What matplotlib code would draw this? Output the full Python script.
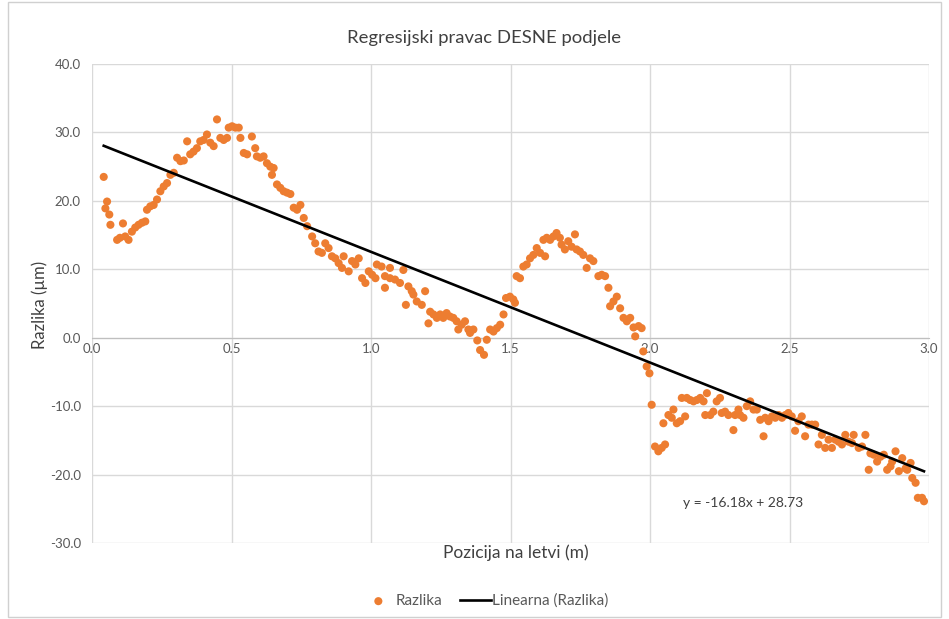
import numpy as np
import matplotlib.pyplot as plt
from matplotlib.patches import Rectangle

plt.rcParams['font.family'] = ['Lato', 'DejaVu Sans']

# pozicija na letvi (m) i razlika (um), ocitano s grafa
pozicija = [
    0.042, 0.048, 0.054, 0.062, 0.066, 0.090, 0.100, 0.111, 0.119, 0.131,
    0.143, 0.155, 0.167, 0.179, 0.191, 0.197, 0.209, 0.221, 0.233, 0.245,
    0.257, 0.269, 0.281, 0.293, 0.305, 0.317, 0.329, 0.341, 0.352, 0.364,
    0.376, 0.388, 0.400, 0.412, 0.424, 0.436, 0.448, 0.460, 0.472, 0.484,
    0.490, 0.502, 0.514, 0.526, 0.532, 0.544, 0.556, 0.573, 0.585, 0.591,
    0.603, 0.615, 0.627, 0.639, 0.645, 0.651, 0.663, 0.675, 0.687, 0.699,
    0.711, 0.723, 0.735, 0.747, 0.759, 0.771, 0.789, 0.800, 0.812, 0.824,
    0.836, 0.848, 0.860, 0.872, 0.884, 0.896, 0.902, 0.920, 0.932, 0.944,
    0.956, 0.968, 0.980, 0.992, 1.004, 1.016, 1.021, 1.038, 1.050, 1.050,
    1.068, 1.068, 1.086, 1.104, 1.116, 1.125, 1.134, 1.146, 1.152, 1.164,
    1.182, 1.194, 1.206, 1.212, 1.224, 1.236, 1.248, 1.259, 1.271, 1.283,
    1.295, 1.307, 1.313, 1.325, 1.337, 1.349, 1.355, 1.367, 1.381, 1.391,
    1.405, 1.415, 1.427, 1.439, 1.451, 1.463, 1.475, 1.484, 1.498, 1.510,
    1.516, 1.522, 1.534, 1.546, 1.558, 1.570, 1.582, 1.594, 1.606, 1.618,
    1.624, 1.630, 1.642, 1.654, 1.665, 1.677, 1.683, 1.695, 1.707, 1.719,
    1.731, 1.737, 1.749, 1.761, 1.773, 1.785, 1.797, 1.815, 1.827, 1.839,
    1.851, 1.857, 1.869, 1.881, 1.893, 1.905, 1.917, 1.929, 1.941, 1.947,
    1.959, 1.970, 1.976, 1.988, 1.998, 2.006, 2.018, 2.030, 2.042, 2.048,
    2.054, 2.066, 2.078, 2.084, 2.096, 2.108, 2.114, 2.126, 2.132, 2.144,
    2.156, 2.168, 2.180, 2.192, 2.198, 2.204, 2.216, 2.227, 2.239, 2.251,
    2.257, 2.269, 2.281, 2.299, 2.305, 2.317, 2.323, 2.335, 2.347, 2.359,
    2.371, 2.383, 2.395, 2.407, 2.413, 2.425, 2.437, 2.449, 2.461, 2.473,
    2.485, 2.496, 2.508, 2.520, 2.532, 2.544, 2.556, 2.568, 2.580, 2.592,
    2.604, 2.616, 2.628, 2.640, 2.652, 2.664, 2.676, 2.688, 2.700, 2.712,
    2.724, 2.730, 2.748, 2.760, 2.772, 2.784, 2.790, 2.802, 2.814, 2.826,
    2.838, 2.850, 2.862, 2.868, 2.880, 2.892, 2.904, 2.916, 2.922, 2.934,
    2.940, 2.952, 2.960, 2.975, 2.982,
]
razlika = [
    23.5, 18.9, 19.9, 18.0, 16.5, 14.3, 14.6, 16.7, 14.8, 14.3,
    15.5, 16.1, 16.5, 16.8, 17.0, 18.7, 19.2, 19.4, 20.2, 21.4,
    22.1, 22.6, 23.8, 24.1, 26.3, 25.8, 25.9, 28.7, 26.8, 27.2,
    27.7, 28.7, 28.9, 29.7, 28.5, 28.0, 31.9, 29.2, 28.9, 29.2,
    30.7, 30.9, 30.7, 30.7, 29.2, 27.0, 26.8, 29.4, 27.7, 26.5,
    26.3, 26.5, 25.5, 25.0, 23.8, 24.8, 22.4, 21.9, 21.4, 21.2,
    21.0, 19.0, 18.7, 19.4, 17.5, 16.3, 14.8, 13.8, 12.6, 12.4,
    13.8, 13.1, 11.9, 11.6, 10.9, 10.2, 11.9, 9.7, 11.2, 10.7,
    11.6, 8.7, 8.0, 9.7, 9.2, 8.7, 10.7, 10.4, 7.3, 9.0,
    8.7, 10.2, 8.5, 8.0, 9.9, 4.8, 7.5, 6.8, 6.3, 5.3,
    4.8, 6.8, 2.1, 3.8, 3.4, 2.9, 3.4, 2.9, 3.6, 3.1,
    2.9, 2.4, 1.2, 1.9, 2.4, 1.2, 0.7, 1.2, -0.4, -1.8,
    -2.5, -0.3, 1.2, 0.9, 1.4, 1.9, 3.4, 5.8, 6.0, 5.6,
    5.1, 9.0, 8.7, 10.4, 10.7, 11.6, 12.1, 13.1, 12.4, 14.3,
    11.9, 14.6, 14.3, 14.8, 15.3, 14.6, 13.6, 12.9, 14.1, 13.3,
    15.1, 12.9, 12.6, 12.1, 10.2, 11.6, 11.2, 9.0, 9.2, 9.0,
    7.3, 4.6, 5.3, 6.0, 4.3, 2.9, 2.4, 2.9, 1.5, 0.2,
    1.7, 1.4, -2.0, -4.2, -5.2, -9.8, -15.9, -16.6, -16.1, -12.5,
    -15.6, -11.3, -11.7, -10.5, -12.5, -12.2, -8.8, -11.5, -8.8, -9.1,
    -9.3, -9.1, -8.8, -9.3, -11.3, -8.1, -11.3, -10.8, -9.3, -8.8,
    -11.0, -10.8, -11.3, -13.5, -11.3, -10.5, -11.3, -11.7, -10.0, -9.3,
    -10.5, -10.5, -12.0, -14.4, -11.7, -12.2, -11.5, -11.7, -11.3, -11.7,
    -11.3, -11.0, -11.5, -13.6, -12.2, -11.5, -14.4, -12.7, -12.7, -12.7,
    -15.6, -14.2, -16.1, -14.9, -16.1, -14.9, -15.2, -15.6, -14.2, -15.2,
    -15.4, -14.2, -16.1, -15.9, -14.2, -19.3, -16.9, -17.1, -18.1, -17.4,
    -17.1, -19.3, -18.8, -18.1, -16.6, -19.5, -17.6, -19.1, -19.3, -18.3,
    -20.5, -21.2, -23.4, -23.4, -23.9,
]

# koeficijenti linearnog trenda
nagib = -16.18
odsjecak = 28.73

x_ticks = [0.0, 0.5, 1.0, 1.5, 2.0, 2.5, 3.0]
y_ticks = [-30, -20, -10, 0, 10, 20, 30, 40]

gray = '#595959'
orange = '#ED7D31'

fig = plt.figure(figsize=(9.49, 6.19), dpi=100)
ax = fig.add_axes([92 / 949, 1 - 543 / 619, (929 - 92) / 949, (543 - 64) / 619])

ax.scatter(pozicija, razlika, s=34, color=orange, edgecolors='none',
           zorder=3, label='Razlika')
xs = np.array([min(pozicija), max(pozicija)])
ax.plot(xs, nagib * xs + odsjecak, color='black', lw=1.9, zorder=4,
        label='Linearna (Razlika)')

ax.set_xlim(0, 3.0)
ax.set_ylim(-30, 40)
ax.set_xticks(x_ticks)
ax.set_yticks(y_ticks)
ax.set_xticklabels([f'{v:.1f}' for v in x_ticks])
ax.set_yticklabels([f'{v:.1f}' for v in y_ticks])
ax.grid(True, color='#d9d9d9', lw=1)
ax.set_axisbelow(True)
for s in ['top', 'right', 'left']:
    ax.spines[s].set_visible(False)
ax.spines['bottom'].set_position(('data', 0))
ax.spines['bottom'].set_color('#bfbfbf')
ax.tick_params(length=0, labelcolor=gray, labelsize=9.5)
ax.tick_params(axis='x', pad=4)
ax.tick_params(axis='y', pad=8)

fig.text(40 / 949, 1 - 305 / 619, 'Razlika (µm)', rotation=90, ha='center',
         va='center', fontsize=12, color='#404040')
fig.text(516 / 949, 1 - 553 / 619, 'Pozicija na letvi (m)', ha='center',
         va='center', fontsize=12.5, color='#404040')
fig.text(484 / 949, 1 - 38 / 619, 'Regresijski pravac DESNE podjele', ha='center',
         va='center', fontsize=13.3, color='#404040')

ax.text(2.118, -24.1, f'y = {nagib:.2f}x + {odsjecak:.2f}', ha='left',
        va='center', fontsize=10, color='#404040')

leg = fig.legend(loc='center', bbox_to_anchor=(0.512, 1 - 601 / 619), ncol=2,
                 frameon=False, fontsize=11, handlelength=2.0, columnspacing=1.2,
                 handletextpad=0.1, markerscale=1.0)
for t in leg.get_texts():
    t.set_color(gray)

fig.patches.append(Rectangle((8 / 949, 2 / 619), (941 - 8) / 949, (617 - 2) / 619,
                             transform=fig.transFigure, fill=False,
                             edgecolor='#d0d0d0', lw=1))

fig.savefig('out.png', dpi=100)
